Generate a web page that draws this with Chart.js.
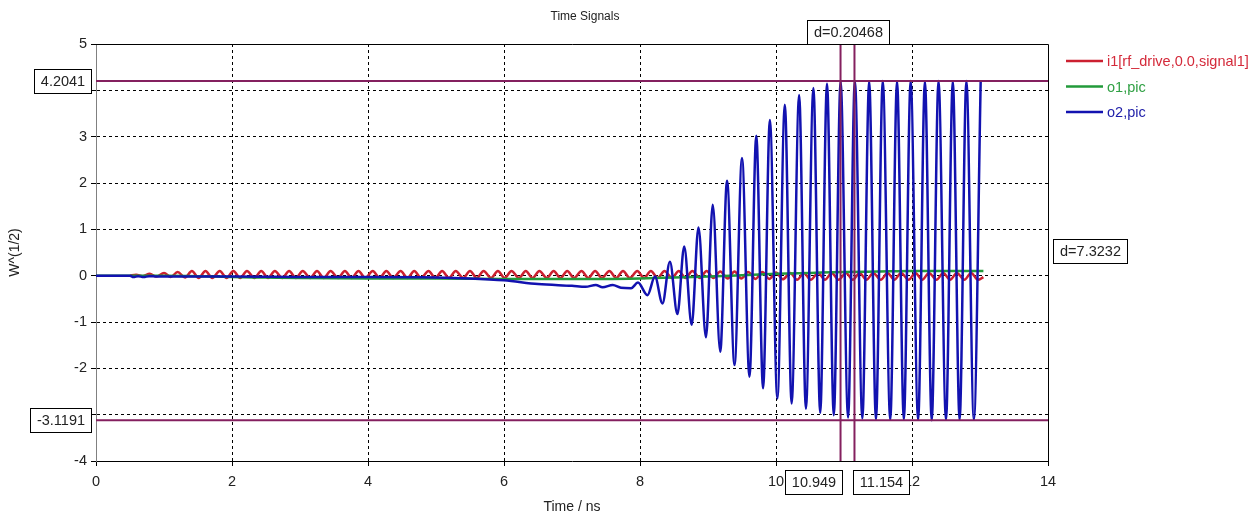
<!DOCTYPE html>
<html>
<head>
<meta charset="utf-8">
<title>Time Signals</title>
<script src="https://cdn.jsdelivr.net/npm/chart.js@4.4.1/dist/chart.umd.min.js"></script>
<style>
  html, body { margin: 0; padding: 0; background: #fff; }
  #wrap { width: 1260px; height: 519px; }
</style>
</head>
<body>
<div id="wrap"><canvas id="chart" width="1260" height="519"></canvas></div>
<script>
// Time Signals — three probe signals (W^(1/2)) against time in ns.
// Values: peaks and troughs of each cycle.

const SERIES_LABELS = ["i1[rf_drive,0.0,signal1]", "o1,pic", "o2,pic"];

// i1: drive signal, small ripple (peak / trough pairs)
const redTime = [
  0.50,
  0.59, 0.69, 0.79, 0.89, 1.00, 1.10, 1.20, 1.31, 1.41, 1.51, 1.61, 1.71, 1.82, 1.92, 2.02, 2.12,
  2.22, 2.33, 2.43, 2.53, 2.63, 2.74, 2.84, 2.94, 3.04, 3.15, 3.25, 3.35, 3.45, 3.56, 3.66, 3.76,
  3.86, 3.96, 4.07, 4.17, 4.27, 4.37, 4.48, 4.58, 4.68, 4.78, 4.89, 4.99, 5.09, 5.19, 5.29, 5.40,
  5.50, 5.60, 5.70, 5.81, 5.91, 6.01, 6.11, 6.22, 6.32, 6.42, 6.52, 6.63, 6.73, 6.83, 6.93, 7.03,
  7.14, 7.24, 7.34, 7.44, 7.55, 7.65, 7.75, 7.85, 7.96, 8.06, 8.16, 8.26, 8.36, 8.47, 8.57, 8.67,
  8.77, 8.88, 8.98, 9.08, 9.18, 9.29, 9.39, 9.49, 9.59, 9.70, 9.80, 9.90, 10.00, 10.10, 10.21, 10.31,
  10.41, 10.51, 10.62, 10.72, 10.82, 10.92, 11.03, 11.13, 11.23, 11.33, 11.43, 11.54, 11.64, 11.74, 11.84, 11.95,
  12.05, 12.15, 12.25, 12.36, 12.46, 12.56, 12.66, 12.77, 12.87, 12.97,
  13.05
];
const redValue = [
  0.00,
  0.02, -0.01, 0.04, -0.02, 0.06, -0.03, 0.08, -0.04, 0.10, -0.05, 0.10, -0.05, 0.10, -0.05, 0.10, -0.05,
  0.10, -0.05, 0.10, -0.05, 0.10, -0.05, 0.10, -0.05, 0.10, -0.05, 0.10, -0.05, 0.10, -0.05, 0.10, -0.05,
  0.10, -0.05, 0.10, -0.05, 0.10, -0.05, 0.10, -0.05, 0.10, -0.05, 0.10, -0.05, 0.10, -0.05, 0.10, -0.05,
  0.10, -0.05, 0.10, -0.05, 0.10, -0.05, 0.10, -0.05, 0.10, -0.05, 0.10, -0.05, 0.10, -0.05, 0.10, -0.05,
  0.10, -0.05, 0.10, -0.05, 0.10, -0.05, 0.10, -0.05, 0.10, -0.05, 0.10, -0.05, 0.10, -0.05, 0.10, -0.05,
  0.10, -0.05, 0.10, -0.05, 0.09, -0.06, 0.09, -0.06, 0.08, -0.07, 0.08, -0.07, 0.07, -0.08, 0.06, -0.09,
  0.06, -0.09, 0.06, -0.09, 0.06, -0.09, 0.06, -0.09, 0.06, -0.09, 0.06, -0.09, 0.06, -0.09, 0.06, -0.09,
  0.06, -0.09, 0.06, -0.09, 0.06, -0.09, 0.06, -0.09, 0.06, -0.09,
  -0.03
];

// o1: slow drift below zero, back above after ~9.5 ns
const greenTime  = [0, 1.0, 1.5, 2.0, 2.5, 3.0, 4.0, 5.0, 6.0, 7.0, 7.5, 8.0, 8.5, 9.0, 9.5, 10.0, 10.5, 11.0, 11.5, 12.0, 12.5, 13.05];
const greenValue = [0, 0, -0.01, -0.03, -0.04, -0.05, -0.06, -0.06, -0.07, -0.07, -0.07, -0.06, -0.04, -0.02, 0.01, 0.04, 0.06, 0.08, 0.09, 0.10, 0.10, 0.10];

// o2: drifts negative, then oscillation builds up and saturates
const blueTime = [
  0, 0.50, 0.55, 0.62, 0.70, 0.78, 0.90, 1.5, 2.0, 3.0, 4.0, 5.0, 5.5, 6.0, 6.5, 7.0,
  7.20, 7.35, 7.45, 7.60, 7.72, 7.87, 7.97, 8.11, 8.22, 8.33, 8.44, 8.55, 8.65, 8.76, 8.86, 8.97,
  9.07, 9.18, 9.28, 9.39, 9.50, 9.61, 9.71, 9.81, 9.91, 10.02, 10.13, 10.23, 10.34, 10.44, 10.55, 10.65,
  10.75, 10.85, 10.95, 11.06, 11.16, 11.27, 11.37, 11.47, 11.57, 11.68, 11.78, 11.88, 11.98, 12.09,
  12.19, 12.29, 12.39, 12.50, 12.60, 12.70, 12.80, 12.91, 13.01
];
const blueValue = [
  0, 0, -0.03, -0.01, -0.03, -0.01, -0.02, -0.02, -0.02, -0.03, -0.03, -0.04, -0.06, -0.10, -0.18, -0.22,
  -0.24, -0.20, -0.25, -0.20, -0.26, -0.27, -0.15, -0.42, -0.02, -0.60, 0.30, -0.83, 0.63, -1.06, 1.04, -1.33,
  1.53, -1.64, 2.05, -1.93, 2.54, -2.18, 3.02, -2.43, 3.36, -2.65, 3.69, -2.76, 3.90, -2.87, 4.05, -2.96,
  4.14, -3.01, 4.19, -3.06, 4.20, -3.08, 4.19, -3.10, 4.20, -3.11, 4.19, -3.10, 4.20, -3.11,
  4.19, -3.12, 4.20, -3.11, 4.19, -3.11, 4.20, -3.11, 4.20
];

// cursors
const H_MARKERS = [4.2041, -3.1191];
const H_MARKER_LABELS = ["4.2041", "-3.1191"];
const V_MARKERS = [10.949, 11.154];
const V_MARKER_LABELS = ["10.949", "11.154"];
const DX_LABEL = "d=0.20468";
const DY_LABEL = "d=7.3232";

const X_MIN = 0, X_MAX = 14, X_STEP = 2;
const Y_MIN = -4, Y_MAX = 5, Y_STEP = 1;

const COLORS = ["#cc2030", "#229a3a", "#1212b0"];
const TEXT_COLORS = ["#d42a3a", "#2fa043", "#1c1ca8"];
const MARKER_COLOR = "#84205f";
const FONT = "'Liberation Sans', Arial, sans-serif";

function pts(xs, ys) { return xs.map((t, i) => ({ x: t, y: ys[i] })); }

function line(ctx, x1, y1, x2, y2) {
  ctx.beginPath(); ctx.moveTo(x1, y1); ctx.lineTo(x2, y2); ctx.stroke();
}

// white labelled box; anchor = "left" | "right" | "center" relative to ax
function labelBox(ctx, text, ax, cy, anchor) {
  ctx.font = "14.5px " + FONT;
  const w = Math.round(ctx.measureText(text).width + 13);
  const h = 24;
  let left = anchor === "right" ? ax - w : anchor === "left" ? ax : ax - w / 2;
  left = Math.round(left);
  const top = Math.round(cy - h / 2);
  ctx.fillStyle = "#fff";
  ctx.fillRect(left, top, w, h);
  ctx.strokeStyle = "#000";
  ctx.lineWidth = 1;
  ctx.strokeRect(left + 0.5, top + 0.5, w, h);
  ctx.fillStyle = "#222";
  ctx.textAlign = "center";
  ctx.textBaseline = "middle";
  ctx.fillText(text, left + w / 2 + 0.5, top + h / 2 + 1);
}

const decor = {
  id: "decor",
  afterDatasetsDraw(chart) {
    const { ctx, chartArea: a, scales: { x, y } } = chart;
    ctx.save();
    // solid frame on top and right
    ctx.strokeStyle = "#000";
    ctx.lineWidth = 1;
    ctx.beginPath();
    ctx.moveTo(a.left, a.top + 0.5);
    ctx.lineTo(a.right + 0.5, a.top + 0.5);
    ctx.lineTo(a.right + 0.5, a.bottom);
    ctx.stroke();
    // cursor lines
    ctx.strokeStyle = MARKER_COLOR;
    ctx.lineWidth = 2;
    H_MARKERS.forEach((v) => { const py = y.getPixelForValue(v); line(ctx, a.left, py, a.right, py); });
    V_MARKERS.forEach((v) => { const px = x.getPixelForValue(v); line(ctx, px, a.top, px, a.bottom); });
    ctx.restore();
  },
  afterDraw(chart) {
    const { ctx, chartArea: a, scales: { x, y } } = chart;
    ctx.save();

    // title
    ctx.font = "12px " + FONT;
    ctx.fillStyle = "#222";
    ctx.textAlign = "center";
    ctx.textBaseline = "middle";
    ctx.fillText("Time Signals", 585, 17);

    // cursor value boxes
    H_MARKERS.forEach((v, i) => labelBox(ctx, H_MARKER_LABELS[i], a.left - 5, y.getPixelForValue(v), "right"));
    const px0 = x.getPixelForValue(V_MARKERS[0]);
    const px1 = x.getPixelForValue(V_MARKERS[1]);
    labelBox(ctx, V_MARKER_LABELS[0], px0 + 1, a.bottom + 21, "right");
    labelBox(ctx, V_MARKER_LABELS[1], px1 - 1, a.bottom + 21, "left");
    labelBox(ctx, DX_LABEL, (px0 + px1) / 2, a.top - 12, "center");
    const midY = (y.getPixelForValue(H_MARKERS[0]) + y.getPixelForValue(H_MARKERS[1])) / 2;
    labelBox(ctx, DY_LABEL, a.right + 5, midY, "left");

    // legend
    ctx.font = "14.5px " + FONT;
    ctx.textAlign = "left";
    ctx.textBaseline = "middle";
    SERIES_LABELS.forEach((lab, i) => {
      const yy = a.top + 17 + i * 25.5;
      ctx.strokeStyle = COLORS[i];
      ctx.lineWidth = 2.5;
      line(ctx, a.right + 18, yy, a.right + 55, yy);
      ctx.fillStyle = TEXT_COLORS[i];
      ctx.fillText(lab, a.right + 59, yy + 1);
    });
    ctx.restore();
  }
};

const edgeGrid = (lo, hi) => (c) => (c.tick && (c.tick.value === lo || c.tick.value === hi)) ? "rgba(0,0,0,0)" : "#000";

new Chart(document.getElementById("chart"), {
  type: "line",
  data: {
    datasets: [
      { label: SERIES_LABELS[0], data: pts(redTime, redValue), borderColor: COLORS[0], order: 2 },
      { label: SERIES_LABELS[1], data: pts(greenTime, greenValue), borderColor: COLORS[1], order: 1 },
      { label: SERIES_LABELS[2], data: pts(blueTime, blueValue), borderColor: COLORS[2], order: 0 },
    ],
  },
  options: {
    responsive: false,
    animation: false,
    events: [],
    layout: { padding: { left: 0, right: 212, top: 44, bottom: 0 } },
    elements: {
      point: { radius: 0 },
      line: { borderWidth: 2.5, cubicInterpolationMode: "monotone", fill: false },
    },
    plugins: { legend: { display: false }, title: { display: false }, tooltip: { enabled: false } },
    scales: {
      x: {
        type: "linear",
        min: X_MIN, max: X_MAX,
        afterFit(s) { s.height = 58; },
        ticks: { stepSize: X_STEP, color: "#222", padding: 7, maxRotation: 0, font: { family: FONT, size: 14.5 } },
        grid: { color: edgeGrid(X_MIN, X_MAX), tickColor: "#000", tickLength: 5, lineWidth: 1 },
        border: { color: "#000", width: 1, dash: [3, 3] },
        title: { display: true, text: "Time / ns", color: "#222", font: { family: FONT, size: 14 }, padding: { top: 0, bottom: 3 } },
      },
      y: {
        type: "linear",
        min: Y_MIN, max: Y_MAX,
        afterFit(s) { s.width = 96; },
        ticks: { stepSize: Y_STEP, color: "#222", padding: 4, font: { family: FONT, size: 14.5 } },
        grid: { color: edgeGrid(Y_MIN, Y_MAX), tickColor: "#000", tickLength: 5, lineWidth: 1 },
        border: { color: "#808080", width: 1, dash: [3, 3] },
        title: { display: true, text: "W^(1/2)", color: "#222", font: { family: FONT, size: 14 }, padding: { top: 7, bottom: 0 } },
      },
    },
  },
  plugins: [decor],
});
</script>
</body>
</html>
